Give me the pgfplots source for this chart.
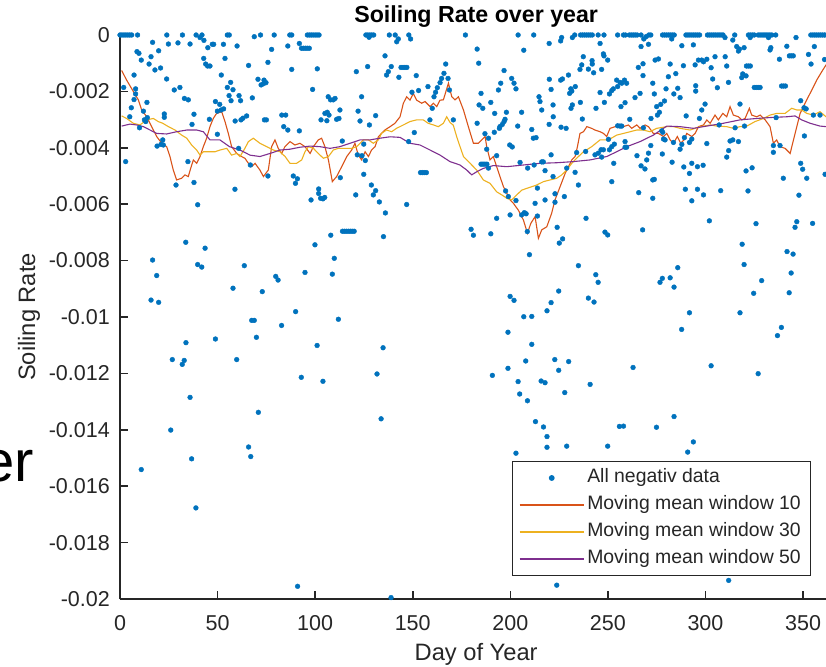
\documentclass[border=0pt]{standalone}
\usepackage{fontspec}
\setmainfont{Liberation Sans}
\usepackage{pgfplots}
\pgfplotsset{compat=1.18}
\definecolor{mblue}{rgb}{0,0.447,0.741}
\definecolor{morange}{rgb}{0.85,0.325,0.098}
\definecolor{myellow}{rgb}{0.929,0.694,0.125}
\definecolor{mpurple}{rgb}{0.494,0.184,0.556}
\definecolor{axgray}{rgb}{0.15,0.15,0.15}
\begin{document}
\begin{tikzpicture}
\useasboundingbox (0,0) rectangle (826pt,666pt);
\clip (0,0) rectangle (826pt,666pt);
\node[anchor=base east, inner sep=0pt, font=\fontsize{58}{60}\selectfont] at (34pt,184pt) {er};
\begin{axis}[
  at={(120pt,67pt)}, anchor=south west,
  width=712.3pt, height=564pt, scale only axis,
  xmin=0, xmax=365, ymin=-0.02, ymax=0,
  clip=false,
  axis x line*=bottom, axis y line*=left,
  axis line style={axgray, line width=1.6pt},
  tick align=inside, major tick length=7.7pt,
  tick style={axgray, line width=1.6pt},
  scaled y ticks=false, scaled x ticks=false,
  xtick={0,50,100,150,200,250,300,350},
  xticklabels={0,50,100,150,200,250,300,350},
  ytick={-0.02,-0.018,-0.016,-0.014,-0.012,-0.01,-0.008,-0.006,-0.004,-0.002,0},
  yticklabels={-0.02,-0.018,-0.016,-0.014,-0.012,-0.01,-0.008,-0.006,-0.004,-0.002,0},
  ticklabel style={font=\fontsize{21.5}{24}\selectfont, text=axgray},
  xticklabel style={anchor=north, inner sep=0pt, yshift=-16pt},
  yticklabel style={anchor=east, inner sep=0pt, xshift=-10pt},
  xlabel={Day of Year}, ylabel={Soiling Rate},
  title={Soiling Rate over year},
  label style={font=\fontsize{23.7}{26}\selectfont, text=axgray},
  xlabel style={at={(axis description cs:0.5,-0.10816)}, anchor=base},
  ylabel style={at={(axis description cs:-0.11933,0.5)}, anchor=base},
  title style={at={(axis description cs:0.5,1.0115)}, anchor=base, font=\fontsize{23.2}{26}\selectfont\bfseries},
  legend image code/.code={\draw[mark repeat=2,mark phase=2,#1] plot coordinates {(0pt,0pt) (32pt,0pt) (64pt,0pt)};},
  legend cell align=left,
  legend style={at={(0.9705,0.0408)}, anchor=south east, draw=axgray, line width=1pt, fill=white,
    font=\fontsize{19.4}{22}\selectfont, text=axgray, inner xsep=7pt, inner ysep=3pt, row sep=0pt,
    nodes={inner xsep=3pt, inner ysep=4pt, text height=14.5pt, text depth=4.5pt},
    /tikz/every even column/.append style={column sep=4pt}},
]
\addplot[only marks, mark=*, mark size=2.4pt, mark options={draw=mblue, fill=mblue}, color=mblue] coordinates {
(0,0) (1,0) (2,0) (3,0) (4,0) (5,0) (6,0) (9,0) (24,0) (32,0) (39,0) (42,0) (55,0) (56,0) (72,0) (79,0) (87,0) (88,0)
(96,0) (97,0) (98,0) (99,0) (100,0) (101,0) (102,0) (126,0) (127,0) (128,0) (129,0) (130,0) (138,0) (141,0) (148,0)
(177,0) (204,0) (212,0) (233,0) (236,0) (237,0) (238,0) (239,0) (240,0) (241,0) (242,0) (245,0) (248,0) (255,0) (258,0)
(259,0) (261,0) (262,0) (263,0) (264,0) (265,0) (267,0) (271,0) (272,0) (278,0) (279,0) (280,0) (281,0) (282,0) (283,0)
(284,0) (290,0) (291,0) (292,0) (293,0) (294,0) (295,0) (296,0) (297,0) (301,0) (302,0) (303,0) (304,0) (305,0) (306,0)
(307,0) (308,0) (309,0) (315,0) (322,0) (323,0) (324,0) (325,0) (327,0) (328,0) (329,0) (330,0) (331,0) (332,0) (333,0)
(334,0) (336,0) (354,0) (355,0) (356,0) (357,0) (358,0) (359,0) (360,0) (361,0) (362,0)
(41,-0.00009) (43,-0.00019) (47.3,-0.00033) (48,-0.00033) (45,-0.00045) (53,-0.00033) (60,-0.00039) (68.8,-0.00006) (86,-0.00039) (77.7,-0.00051) (75.8,-0.00097) (88,-0.00122) (16.7,-0.00026) (29.7,-0.00028) (24.8,-0.00032) (35.9,-0.00032) (19.8,-0.00056) (8.7,-0.00059) (9.7,-0.00065) (15.9,-0.00077) (10.9,-0.00089) (14.9,-0.00103) (20.8,-0.00117) (17.9,-0.00124) (42.9,-0.00083) (43.9,-0.00103) (44.9,-0.0011) (46.1,-0.0011) (53.8,-0.00083) (65.9,-0.00108) (51.9,-0.00142) (23.9,-0.00156) (7.2,-0.00142) (1.9,-0.00186) (8,-0.00191) (8,-0.00209) (7.2,-0.00229) (5.8,-0.00258) (13.8,-0.00239) (30.7,-0.00186) (27.8,-0.00195) (56.7,-0.00168) (55,-0.00186) (57.9,-0.00194) (55.9,-0.00215) (56.9,-0.00233) (61,-0.00215) (61.8,-0.00233) (67.8,-0.00223) (70.7,-0.00157) (73.8,-0.0016) (72.3,-0.00177) (74.8,-0.00169) (73.5,-0.00173) (33,-0.00225) (35,-0.0023) (48.9,-0.00236) (51.1,-0.00246) (53.1,-0.00262) (49.9,-0.0027) (51.8,-0.00266) (37.9,-0.00281) (22.7,-0.0028) (22.7,-0.00292) (5,-0.0029) (12,-0.0027) (12.5,-0.00301) (14,-0.00293) (13.2,-0.00307) (10,-0.00329) (36.9,-0.00317) (45.8,-0.00299) (49.9,-0.00352) (59,-0.00305) (62,-0.00301) (63,-0.00295) (64.9,-0.00287) (74,-0.00301) (75,-0.00301) (82.9,-0.00284) (84.9,-0.00284) (83.9,-0.00325) (86,-0.00337) (19,-0.00394) (21.9,-0.00372) (21,-0.00388) (22.2,-0.0039) (60.8,-0.00402)
(91.9,-0.0003) (93,-0.00047) (94,-0.00047) (95,-0.00047) (96,-0.00047) (97,-0.00047) (127.6,-0.00008) (142.6,-0.00014) (141.8,-0.00024) (148.9,-0.00014) (135.8,-0.00074) (126.9,-0.00112) (121.1,-0.0013) (139,-0.00112) (137.5,-0.0013) (136.6,-0.00142) (144,-0.00115) (145,-0.00115) (146,-0.00115) (147,-0.00115) (142.9,-0.0015) (151.8,-0.00144) (101.1,-0.0012) (98.7,-0.00193) (106.7,-0.00219) (107.9,-0.0023) (109.3,-0.0023) (110.2,-0.00225) (123.8,-0.00219) (112.7,-0.00266) (105,-0.00278) (106.2,-0.00274) (107.1,-0.00284) (103,-0.00301) (106,-0.00304) (111,-0.00299) (112.2,-0.00296) (122,-0.0027) (123,-0.00305) (131,-0.00286) (127.8,-0.00319) (91.9,-0.0034) (113.9,-0.00376) (124.9,-0.00387) (150.8,-0.00346) (147.9,-0.00378) (149.6,-0.00203) (153,-0.00197) (157.8,-0.00183) (160.9,-0.00219) (161.7,-0.00203) (162.6,-0.00187) (164,-0.00169) (164.8,-0.00154) (166,-0.00136) (166.9,-0.00103) (168.1,-0.00154) (168.8,-0.00195) (160,-0.0026) (158.8,-0.00301) (170.8,-0.00301)
(219.9,-0.0003) (226.3,-0.00009) (225.8,-0.00021) (231.8,-0.00009) (246,-0.0003) (268.4,-0.00014) (267,-0.00041) (183,-0.0005) (206.9,-0.00054) (183.8,-0.001) (196.8,-0.00126) (237.4,-0.00077) (241.9,-0.00091) (242,-0.00103) (247.7,-0.00067) (248,-0.00074) (249.9,-0.00089) (236.6,-0.00106) (235.7,-0.00122) (240,-0.00121) (242.7,-0.00134) (246.8,-0.00122) (265.6,-0.00115) (268,-0.00144) (268,-0.00102) (229.8,-0.00142) (226.7,-0.00156) (225.8,-0.0016) (220,-0.00157) (200.7,-0.00154) (201.9,-0.00171) (202.9,-0.00191) (195.1,-0.00171) (193.9,-0.00195) (185,-0.00207) (220.9,-0.00193) (231,-0.00191) (230.4,-0.00207) (231.5,-0.00199) (233.3,-0.00183) (254.5,-0.0016) (256.2,-0.00168) (257.1,-0.00171) (259.6,-0.00171) (258.5,-0.0016) (255,-0.00183) (252.8,-0.00191) (252,-0.00197) (250.8,-0.00209) (246,-0.00204) (263.9,-0.00222) (266.5,-0.00207) (214.7,-0.00219) (215.2,-0.00236) (216.1,-0.00266) (221.9,-0.00248) (235.9,-0.00239) (231.8,-0.00248) (231.1,-0.0026) (243.9,-0.0026) (248.2,-0.00239) (256.7,-0.00254) (258.8,-0.0024) (184,-0.00248) (185.9,-0.0026) (190,-0.00239) (192,-0.00278) (198,-0.00274) (205.8,-0.00274) (222,-0.0029) (236.9,-0.00298) (183,-0.00313) (197.3,-0.00299) (196.8,-0.00307) (195.9,-0.00317) (194.7,-0.00325) (194.4,-0.00331) (203.8,-0.00323) (219.9,-0.00317) (226,-0.00327) (228.6,-0.00331) (191.8,-0.00345) (187,-0.0035) (188.8,-0.00366) (211,-0.00335) (211.8,-0.00366) (213.2,-0.00364) (199.7,-0.0039) (201,-0.00397) (250.3,-0.0037) (253.3,-0.00387) (255,-0.00322) (256.2,-0.00323) (257.1,-0.00323) (258.8,-0.00378) (261.2,-0.00299)
(269.6,-0.00006) (282.7,-0.00014) (310,-0.00009) (314,-0.00018) (322.9,-0.00009) (332.3,-0.00009) (346.4,-0.00009) (270.8,-0.00033) (287.9,-0.00038) (293.8,-0.00035) (316,-0.00041) (317.4,-0.0005) (319.8,-0.00045) (316.9,-0.00057) (333.5,-0.00045) (333.1,-0.00053) (341.7,-0.0004) (355.8,-0.00041) (343,-0.00074) (344,-0.00074) (345,-0.00074) (352.8,-0.00069) (337.9,-0.00086) (274.2,-0.00089) (275.9,-0.00085) (281.9,-0.00103) (288.7,-0.00109) (294.7,-0.00106) (296.4,-0.00089) (298.1,-0.00089) (299,-0.00095) (300.7,-0.00086) (304.9,-0.00077) (310.1,-0.00077) (302.9,-0.00116) (310.9,-0.0011) (321,-0.0011) (322,-0.0011) (323,-0.0011) (319.1,-0.00138) (320.8,-0.00145) (318.6,-0.00151) (354.1,-0.00103) (361,-0.00087) (281,-0.00148) (284.8,-0.00137) (273,-0.00171) (295,-0.0018) (295,-0.00199) (303.7,-0.00156) (306.1,-0.00187) (311.8,-0.00168) (325,-0.00186) (326,-0.00186) (327,-0.00186) (328,-0.00186) (339,-0.00181) (340,-0.00181) (341,-0.00181) (273.8,-0.00209) (279.8,-0.00191) (283.8,-0.00209) (285.8,-0.00189) (287,-0.00222) (279,-0.00234) (277.1,-0.00246) (275,-0.00254) (276.4,-0.00274) (275.4,-0.00284) (272.1,-0.00296) (299.8,-0.00245) (298.1,-0.00266) (296.9,-0.00296) (290.1,-0.00287) (317.7,-0.00245) (348.8,-0.00233) (350.5,-0.00258) (351.6,-0.00262) (336.2,-0.00293) (355.3,-0.00284) (358.7,-0.00284) (307,-0.00319) (315.2,-0.00329) (320,-0.00323) (278.1,-0.00345) (277.6,-0.0034) (268.2,-0.00329) (289.2,-0.00364) (278.5,-0.00369) (279.3,-0.00372) (283.6,-0.00381) (287.9,-0.00388) (291.8,-0.00381) (293,-0.00369) (272,-0.00392) (300.7,-0.00385) (312.6,-0.00376) (314,-0.00372) (316.9,-0.00378) (334.8,-0.00392) (338.2,-0.00392) (350.7,-0.00358)
(2.9,-0.00449) (28.7,-0.00532) (34.8,-0.00449) (37.9,-0.00523) (39.8,-0.00602) (33.7,-0.00735) (43.6,-0.00756) (58.9,-0.00547) (66.8,-0.00461) (75.8,-0.005) (88.8,-0.005) (90.9,-0.0051) (89.9,-0.00526) (101.8,-0.00546) (101.8,-0.00562) (102.8,-0.00579) (104,-0.00581) (104.9,-0.00576) (97.9,-0.00585) (112.9,-0.00506) (120.8,-0.00567) (121.6,-0.00425) (124,-0.00428) (125.7,-0.00445) (124.9,-0.00494) (128.8,-0.00532) (131,-0.00552) (129.8,-0.00567) (132.9,-0.00592) (136,-0.00631) (114,-0.00696) (115,-0.00696) (116,-0.00696) (117,-0.00696) (118,-0.00696) (119,-0.00696) (120,-0.00696) (108,-0.0071) (135,-0.00715) (99.9,-0.00744) (146.9,-0.00601) (154,-0.00488) (155,-0.00488) (156,-0.00488) (157,-0.00488)
(187.9,-0.00405) (193,-0.00428) (185,-0.00458) (186,-0.00458) (187,-0.00458) (188,-0.00458) (188.8,-0.00472) (205,-0.00452) (208.9,-0.00472) (212.2,-0.00461) (216.1,-0.0045) (216.9,-0.0045) (217.8,-0.00481) (220.9,-0.00425) (221.9,-0.00502) (228.9,-0.00472) (233.2,-0.00487) (234,-0.00417) (234.9,-0.00532) (238.6,-0.00413) (243.4,-0.00425) (245.1,-0.00419) (246.5,-0.00407) (247.7,-0.00407) (250.8,-0.00407) (252,-0.00396) (246.8,-0.00433) (253,-0.00455) (252,-0.0052) (258.8,-0.00398) (259.6,-0.00398) (264.9,-0.00428) (270.8,-0.00419) (269.9,-0.00443) (267,-0.00464) (269,-0.00475) (277.9,-0.00422) (282.9,-0.00451) (287,-0.00405) (288.9,-0.00468) (291.8,-0.00491) (293,-0.00455) (295.9,-0.00467) (298.8,-0.00462) (310.9,-0.00433) (311.9,-0.0041) (320.8,-0.00482) (323.9,-0.00471) (334.8,-0.00416) (348.8,-0.00455) (349.8,-0.00476) (351.9,-0.00508) (339.9,-0.00508) (361.3,-0.00494) (273,-0.00514) (273.8,-0.00512) (265.8,-0.00559) (273,-0.00579) (289.7,-0.00547) (295.9,-0.00547) (299,-0.00567) (293,-0.00588) (307.8,-0.00552) (321.8,-0.00553) (347.9,-0.00568) (302,-0.00659) (325.9,-0.00669) (346.8,-0.00662) (345.9,-0.00682) (354.9,-0.00668) (318.8,-0.00742) (213.9,-0.00543) (222.9,-0.00563) (222.9,-0.00593) (217.8,-0.00585) (212.7,-0.00597) (227.7,-0.00573) (197.6,-0.00553) (199,-0.00573) (202.9,-0.00587) (207.2,-0.0063) (208.1,-0.00634) (205.8,-0.00638) (199.9,-0.00638) (213.9,-0.00642) (193,-0.0065) (179.9,-0.00689) (181.1,-0.0071) (190,-0.00705) (224,-0.00682) (238.8,-0.0065) (248.5,-0.00699) (249.9,-0.00709) (267.8,-0.00691) (208.7,-0.00697) (226.8,-0.00723) (225.1,-0.00738)
(16.7,-0.00798) (18.8,-0.00853) (15.9,-0.0094) (19.8,-0.00948) (39.8,-0.00814) (41.9,-0.00823) (63.7,-0.00818) (57.9,-0.00898) (72.9,-0.0091) (79.8,-0.00856) (81,-0.00869) (94.8,-0.00842) (109.8,-0.00792) (108.8,-0.00848) (90,-0.00981) (67.5,-0.01012) (68.8,-0.01012) (82.8,-0.0103) (111.9,-0.01008) (48.9,-0.01078) (69.9,-0.01072) (33.8,-0.01091) (101,-0.01101) (134.8,-0.01109) (26.8,-0.01151) (32.9,-0.01154) (31.9,-0.01168) (59.8,-0.01151) (92.9,-0.01214) (104,-0.01228) (131.7,-0.01202) (35.9,-0.01285) (70.9,-0.01338) (133.8,-0.01361) (26,-0.01401) (65.9,-0.01461)
(209.8,-0.00779) (234.9,-0.00818) (243.8,-0.0085) (245,-0.00877) (224.8,-0.00908) (240,-0.00933) (242.9,-0.00947) (220.9,-0.00949) (218.8,-0.00978) (199.9,-0.00927) (201.9,-0.00941) (206.9,-0.00999) (211,-0.00998) (198.8,-0.01054) (211,-0.01097) (207.9,-0.01156) (198.8,-0.01182) (190.8,-0.01207) (204,-0.01229) (204.8,-0.01273) (208.8,-0.01297) (215.8,-0.01227) (217.8,-0.01233) (222.8,-0.01151) (229.9,-0.01158) (224.8,-0.01189) (227.9,-0.01268) (240.9,-0.01239) (212.9,-0.01371) (217,-0.0139) (218.8,-0.01424) (218.8,-0.01462) (228.9,-0.01458) (249.9,-0.01458) (255.9,-0.01388) (258,-0.01387) (262.9,-0.01179) (274.9,-0.01391) (283.9,-0.01353) (293.8,-0.01443) (276.7,-0.00877) (277.9,-0.00863) (281.9,-0.00861) (283.9,-0.00894) (285.8,-0.00825) (291.8,-0.00985) (287.8,-0.01044) (302.9,-0.01173) (319.8,-0.00814) (317.7,-0.00985) (324.7,-0.00916) (328.8,-0.00871) (327,-0.01201) (341.8,-0.00768) (344.9,-0.00777) (343.9,-0.00844) (342.9,-0.00914) (338.9,-0.01037) (336.9,-0.01066)
(10.9,-0.01541) (36.7,-0.01503) (38.9,-0.01677) (67,-0.01495) (91,-0.01955) (138.9,-0.01995) (202.9,-0.01483) (290.9,-0.01479) (223.8,-0.01951) (311.9,-0.01934)
};
\addlegendentry{All negativ data}
\addplot[morange, line width=1.1pt, mark=none] coordinates {
(0.85,-0.00126) (3.4,-0.0016) (6.8,-0.002) (9.4,-0.0023) (11.1,-0.00266) (13.7,-0.0029) (16.2,-0.00325) (18.8,-0.0036) (21.4,-0.00384) (23.9,-0.00396) (25.6,-0.00431) (27.3,-0.00479) (29,-0.00514) (31.6,-0.00508) (33.3,-0.00496) (35,-0.00502) (36.2,-0.00473) (37.6,-0.00443) (39.3,-0.00455) (41,-0.00431) (42.7,-0.00396) (44.4,-0.00366) (46.1,-0.00325) (47.8,-0.00296) (49.5,-0.00278) (52.1,-0.00272) (53.8,-0.00307) (55.5,-0.00349) (57.2,-0.00396) (59.8,-0.0042) (62.3,-0.00431) (64,-0.00437) (65.8,-0.00455) (67.5,-0.00467) (69.2,-0.00455) (71.7,-0.00479) (73.5,-0.00502) (76,-0.00479) (77.7,-0.00396) (79.4,-0.00372) (81.1,-0.00402) (82.8,-0.0042) (84.5,-0.00396) (87.1,-0.00378) (89.6,-0.0039) (92.2,-0.00384) (94.8,-0.00396) (97.4,-0.0042) (99.1,-0.00396) (101.6,-0.00372) (103.3,-0.00366) (105,-0.00396) (106.8,-0.00443) (108.8,-0.0052) (111,-0.00502) (113.6,-0.00467) (116.2,-0.00431) (118.7,-0.00408) (120.4,-0.00384) (122.1,-0.00426) (123.8,-0.00443) (125.6,-0.00414) (127.3,-0.00431) (128.9,-0.00408) (130.7,-0.00396) (132.4,-0.00361) (134,-0.00349) (135.7,-0.00337) (138.4,-0.00325) (140.9,-0.00313) (143.5,-0.0029) (145.2,-0.00242) (146.9,-0.00219) (148.6,-0.00231) (150.3,-0.00207) (152,-0.00231) (154.6,-0.00242) (156.3,-0.00236) (158.9,-0.00254) (160.6,-0.00242) (162.3,-0.00254) (164,-0.00231) (165.7,-0.0023) (168.3,-0.00171) (170,-0.00219) (171.7,-0.0023) (173.4,-0.00219) (176,-0.00266) (178.5,-0.00325) (181.1,-0.00384) (183.6,-0.00384) (185.4,-0.00372) (187.1,-0.0036) (187.9,-0.00396) (189.6,-0.00443) (191.3,-0.00431) (193,-0.00467) (194.7,-0.00502) (196.5,-0.00538) (198.2,-0.00561) (199.9,-0.00585) (201.6,-0.00597) (204.1,-0.00621) (206.7,-0.00656) (208.8,-0.00703) (210.5,-0.00668) (212.7,-0.00644) (214.4,-0.00721) (216.1,-0.00691) (218.7,-0.0068) (221.2,-0.00632) (222.9,-0.00585) (225.5,-0.00538) (228.1,-0.00491) (231.5,-0.00443) (233.2,-0.00431) (234.4,-0.00396) (235.7,-0.00349) (237.5,-0.00343) (239.2,-0.00325) (241.7,-0.00331) (243.4,-0.00337) (246,-0.00343) (247.7,-0.00349) (249.4,-0.0036) (251.1,-0.00331) (253.7,-0.00325) (255.4,-0.00319) (258,-0.00325) (260.5,-0.00319) (262.2,-0.00331) (264.8,-0.00319) (266.5,-0.00331) (269.1,-0.00319) (270.8,-0.00325) (273.3,-0.00349) (275.9,-0.00349) (278.5,-0.0036) (280.2,-0.00349) (281.9,-0.00372) (283.6,-0.00384) (285.6,-0.0036) (287.3,-0.00384) (289,-0.00372) (290.4,-0.00349) (293,-0.0036) (294.7,-0.00349) (296.4,-0.00325) (299,-0.00319) (300.7,-0.00301) (302.4,-0.00313) (304.9,-0.00284) (306.6,-0.00301) (308.9,-0.00278) (310.9,-0.0029) (312.6,-0.00254) (314.3,-0.00284) (316.9,-0.0029) (318.6,-0.00301) (320.3,-0.00296) (322.5,-0.0026) (323.7,-0.00284) (326.3,-0.0029) (328,-0.00284) (330.6,-0.00301) (333.1,-0.00325) (334.8,-0.00384) (336.5,-0.00372) (338.2,-0.00396) (340.8,-0.00402) (343.4,-0.0042) (345.1,-0.00372) (346.8,-0.00325) (348.5,-0.00278) (350.2,-0.00254) (351.9,-0.0023) (354.5,-0.00195) (357,-0.0016) (359.6,-0.0013) (361.8,-0.00106) (365,-0.00075)
};
\addlegendentry{Moving mean window 10}
\addplot[myellow, line width=1.1pt, mark=none] coordinates {
(0.85,-0.00287) (3.4,-0.00296) (6.8,-0.00313) (10.2,-0.00319) (13.7,-0.00301) (17.1,-0.00296) (19.6,-0.00307) (21.9,-0.00313) (24.8,-0.00325) (28.2,-0.00337) (31.6,-0.00355) (34.2,-0.00366) (36.7,-0.0039) (39.3,-0.00408) (41,-0.00426) (42.7,-0.00414) (45.3,-0.00414) (48.7,-0.00414) (51.2,-0.00408) (54.7,-0.00402) (57.2,-0.00426) (59.8,-0.0042) (61.5,-0.00431) (64,-0.00402) (65.8,-0.00378) (68.3,-0.00366) (71.7,-0.00384) (75.2,-0.00396) (78.6,-0.00408) (82,-0.00414) (84.6,-0.00431) (87.1,-0.00455) (90.5,-0.00455) (93.1,-0.00443) (94.8,-0.00414) (96.5,-0.00396) (99.1,-0.00402) (101.6,-0.0042) (104.2,-0.00437) (106.8,-0.00431) (109.3,-0.00408) (111.9,-0.00402) (115.3,-0.00402) (118.7,-0.00402) (121.3,-0.00396) (124.7,-0.00372) (127.3,-0.00372) (129.8,-0.00384) (132.4,-0.00372) (134,-0.00349) (136.6,-0.00337) (139.2,-0.00343) (141.7,-0.00331) (145.2,-0.00319) (148.6,-0.00307) (152,-0.00301) (155.4,-0.00301) (157.9,-0.00313) (160.6,-0.00319) (163.1,-0.00325) (165.7,-0.00313) (167.4,-0.0029) (169.1,-0.0031) (170.8,-0.0032) (172.5,-0.0036) (174.2,-0.00395) (176,-0.00431) (179.4,-0.00455) (182.8,-0.00479) (186.2,-0.00514) (189.6,-0.00526) (193,-0.00556) (195.6,-0.00567) (198.2,-0.00579) (200.7,-0.00585) (203.3,-0.00567) (205.9,-0.0055) (208.4,-0.00544) (211,-0.00538) (213.5,-0.00532) (217,-0.0052) (220.4,-0.00514) (223.8,-0.00508) (226.4,-0.00496) (228.9,-0.00479) (231.5,-0.00455) (234,-0.00437) (237.5,-0.00414) (241.7,-0.00396) (246,-0.00372) (250.3,-0.00372) (254.5,-0.00355) (258,-0.00349) (261.4,-0.00343) (264.8,-0.00337) (268.2,-0.00337) (271.6,-0.00343) (275,-0.00331) (280.2,-0.00325) (283.6,-0.00325) (287,-0.00331) (292.1,-0.00337) (297.2,-0.00325) (302.4,-0.00319) (305.8,-0.00323) (310.9,-0.00325) (314.3,-0.00331) (317.7,-0.00325) (321.2,-0.00323) (325.4,-0.00307) (329.7,-0.00296) (333.1,-0.00284) (336.5,-0.00278) (340.8,-0.00278) (344.2,-0.0026) (346.8,-0.00266) (349.3,-0.00266) (351.9,-0.00278) (355.3,-0.00284) (358.7,-0.00272) (361.8,-0.0029) (365,-0.003)
};
\addlegendentry{Moving mean window 30}
\addplot[mpurple, line width=1.1pt, mark=none] coordinates {
(0.85,-0.00323) (5.1,-0.00316) (8.5,-0.00319) (12,-0.00325) (15.4,-0.00337) (18.8,-0.00349) (23.9,-0.00351) (29,-0.00343) (34.2,-0.00337) (39.3,-0.00337) (42.7,-0.00343) (46.1,-0.00372) (51.2,-0.00372) (56.1,-0.00396) (61.5,-0.00408) (66.6,-0.00426) (71.7,-0.00431) (76.9,-0.0042) (82,-0.00408) (87.1,-0.00405) (92.2,-0.00398) (97.4,-0.00394) (102.5,-0.00396) (107.6,-0.00402) (112.7,-0.00396) (117.9,-0.00384) (123,-0.00372) (128.1,-0.00372) (133.2,-0.00366) (138.4,-0.00361) (143.5,-0.00363) (148.6,-0.00384) (153.7,-0.0039) (158.9,-0.00408) (164,-0.00426) (169.1,-0.00449) (174.2,-0.00461) (177.7,-0.00479) (180.2,-0.00496) (182.8,-0.00485) (186.2,-0.00473) (191.3,-0.00463) (198.2,-0.00467) (206.7,-0.00461) (215.2,-0.00455) (223.8,-0.00453) (232.3,-0.00449) (240.9,-0.00443) (249.4,-0.00431) (254.5,-0.00414) (259.7,-0.00396) (266.5,-0.00378) (273.3,-0.00355) (280.2,-0.00323) (287,-0.00325) (293.8,-0.00331) (300.7,-0.00323) (309.2,-0.00313) (317.7,-0.00301) (326.3,-0.00296) (334.8,-0.00292) (341.7,-0.0029) (345.9,-0.00287) (349.3,-0.00301) (353.6,-0.00313) (358.7,-0.00323) (361.8,-0.00325) (365,-0.00327)
};
\addlegendentry{Moving mean window 50}
\end{axis}
\end{tikzpicture}
\end{document}
